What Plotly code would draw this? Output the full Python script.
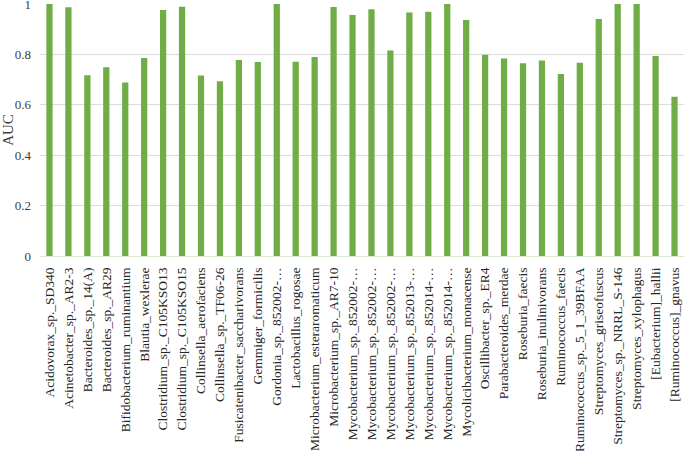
import plotly.graph_objects as go

species = [
    "Acidovorax_sp._SD340",
    "Acinetobacter_sp._AR2-3",
    "Bacteroides_sp._14(A)",
    "Bacteroides_sp._AR29",
    "Bifidobacterium_ruminantium",
    "Blautia_wexlerae",
    "Clostridium_sp._C105KSO13",
    "Clostridium_sp._C105KSO15",
    "Collinsella_aerofaciens",
    "Collinsella_sp._TF06-26",
    "Fusicatenibacter_saccharivorans",
    "Gemmiger_formicilis",
    "Gordonia_sp._852002-…",
    "Lactobacillus_rogosae",
    "Microbacterium_esteraromaticum",
    "Microbacterium_sp._AR7-10",
    "Mycobacterium_sp._852002-…",
    "Mycobacterium_sp._852002-…",
    "Mycobacterium_sp._852002-…",
    "Mycobacterium_sp._852013-…",
    "Mycobacterium_sp._852014-…",
    "Mycobacterium_sp._852014-…",
    "Mycolicibacterium_monacense",
    "Oscillibacter_sp._ER4",
    "Parabacteroides_merdae",
    "Roseburia_faecis",
    "Roseburia_inulinivorans",
    "Ruminococcus_faecis",
    "Ruminococcus_sp._5_1_39BFAA",
    "Streptomyces_griseofuscus",
    "Streptomyces_sp._NRRL_S-146",
    "Streptomyces_xylophagus",
    "[Eubacterium]_hallii",
    "[Ruminococcus]_gnavus",
]

auc = [
    1.000, 0.987, 0.717, 0.749, 0.688, 0.786, 0.976, 0.989, 0.716, 0.693,
    0.778, 0.770, 1.000, 0.771, 0.790, 0.988, 0.956, 0.979, 0.815, 0.966,
    0.969, 1.000, 0.937, 0.799, 0.784, 0.765, 0.776, 0.722, 0.767, 0.940,
    1.000, 1.000, 0.794, 0.632,
]

y_ticks = [0, 0.2, 0.4, 0.6, 0.8, 1]
y_ticktext = ["0", "0.2", "0.4", "0.6", "0.8", "1"]

x_idx = list(range(len(species)))

fig = go.Figure(
    go.Bar(
        x=x_idx,
        y=auc,
        marker=dict(color="#70ad47", line=dict(width=0)),
        hoverinfo="skip",
    )
)

font_family = "Liberation Serif, Times New Roman, serif"

fig.update_layout(
    width=685,
    height=451,
    autosize=False,
    margin=dict(l=40, r=1, t=4, b=195, pad=0),
    paper_bgcolor="white",
    plot_bgcolor="white",
    bargap=0.67,
    showlegend=False,
    font=dict(family=font_family, size=13, color="#404040"),
)

fig.update_xaxes(
    automargin=False,
    tickmode="array",
    tickvals=x_idx,
    ticktext=species,
    tickangle=-90,
    tickfont=dict(family=font_family, size=13.5, color="#262626"),
    range=[-0.5, len(species) - 0.5],
    showgrid=False,
    showline=True,
    linecolor="#d9e6cf",
    linewidth=1,
    ticks="",
    ticklabelstandoff=5,
    ticklabeloverflow="allow",
)

fig.update_yaxes(
    automargin=False,
    range=[0, 1],
    tickmode="array",
    tickvals=y_ticks,
    ticktext=y_ticktext,
    tickfont=dict(family=font_family, size=13, color="#404040"),
    showgrid=True,
    gridcolor="#dcdcdc",
    gridwidth=1,
    zeroline=False,
    showline=False,
    ticks="",
    ticklabelstandoff=8,
    ticklabeloverflow="allow",
    title=dict(text="AUC", font=dict(family=font_family, size=15, color="#404040"), standoff=8),
)

fig.write_html(
    "out.html",
    config={"displayModeBar": False, "staticPlot": True},
    post_script="document.body.style.margin='0';document.body.style.overflow='hidden';",
)
